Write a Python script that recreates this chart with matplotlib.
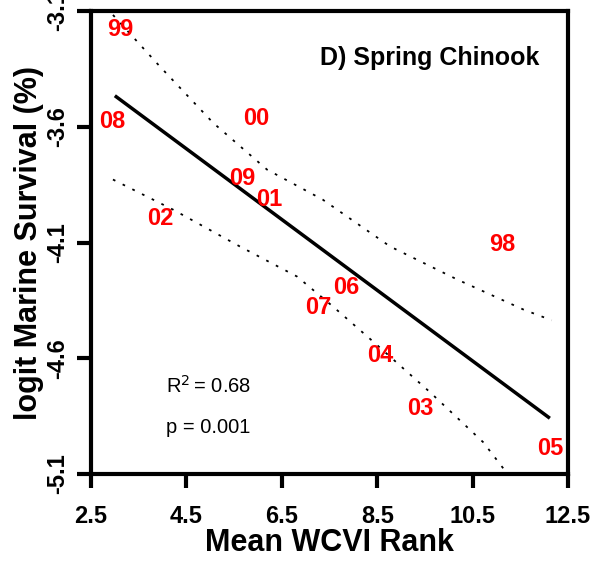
#!/usr/bin/env python3

import matplotlib
matplotlib.use("Agg")
import matplotlib.pyplot as plt

plt.rcParams['font.family'] = ['Liberation Sans', 'DejaVu Sans']

# brood years and their positions (mean WCVI rank, logit marine survival)
years = ['99', '08', '00', '09', '01', '02', '98', '06', '07', '04', '03', '05']
rank = [3.11, 2.94, 5.96, 5.67, 6.23, 3.95, 11.12, 7.85, 7.26, 8.56, 9.40, 12.12]
surv = [-3.18, -3.578, -3.565, -3.824, -3.915, -3.997, -4.109, -4.294, -4.38, -4.59, -4.816, -4.988]

# fitted regression line
fit_x = [3.0, 12.12]
fit_y = [-3.466, -4.859]

# confidence band
upper_x = [2.96, 3.95, 5.06, 6.19, 7.36, 8.77, 10.17, 11.56, 12.16]
upper_y = [-3.117, -3.341, -3.583, -3.785, -3.915, -4.117, -4.259, -4.389, -4.436]
lower_x = [2.96, 4.22, 5.62, 6.82, 7.57, 8.41, 9.61, 10.72, 11.22, 12.15]
lower_y = [-3.828, -3.958, -4.117, -4.247, -4.376, -4.527, -4.747, -4.962, -5.096, -5.28]

xticks = [2.5, 4.5, 6.5, 8.5, 10.5, 12.5]
yticks = [-5.1, -4.6, -4.1, -3.6, -3.1]

fig = plt.figure(figsize=(5.94, 5.63), dpi=100)
ax = fig.add_axes([0.1532, 0.158, 0.8030, 0.8225])

ax.plot(fit_x, fit_y, color='black', lw=2.5, solid_capstyle='butt')
ax.plot(upper_x, upper_y, color='black', lw=1.3, linestyle=(0, (1.5, 4.5)))
ax.plot(lower_x, lower_y, color='black', lw=1.3, linestyle=(0, (1.5, 4.5)))

for lab, x, y in zip(years, rank, surv):
    ax.text(x, y, lab, color='red', fontsize=17, fontweight='bold',
            ha='center', va='center')

ax.text(0.94, 0.898, 'D) Spring Chinook', transform=ax.transAxes, ha='right',
        va='center', fontsize=18, fontweight='bold')
ax.text(0.157, 0.19, r'R$^2$$\,$= 0.68', transform=ax.transAxes, ha='left',
        va='center', fontsize=14.5)
ax.text(0.157, 0.10, 'p = 0.001', transform=ax.transAxes, ha='left',
        va='center', fontsize=14.5)

ax.set_xlim(2.5, 12.5)
ax.set_ylim(-5.1, -3.1)
ax.set_xticks(xticks)
ax.set_xticklabels([f'{t:.1f}' for t in xticks])
ax.set_yticks(yticks)
ax.set_yticklabels([f'{t:.1f}' for t in yticks], rotation=90, va='center')

for s in ax.spines.values():
    s.set_linewidth(3)
ax.tick_params(axis='both', direction='out', length=10, width=3,
               labelsize=17)
ax.tick_params(axis='x', pad=12)
ax.tick_params(axis='y', pad=6)
for t in ax.get_xticklabels() + ax.get_yticklabels():
    t.set_fontweight('bold')

ax.set_xlabel('Mean WCVI Rank', fontsize=22, fontweight='bold', labelpad=0)
ax.set_ylabel('logit Marine Survival (%)', fontsize=22, fontweight='bold',
              labelpad=1)

fig.savefig('out.png', dpi=100)
